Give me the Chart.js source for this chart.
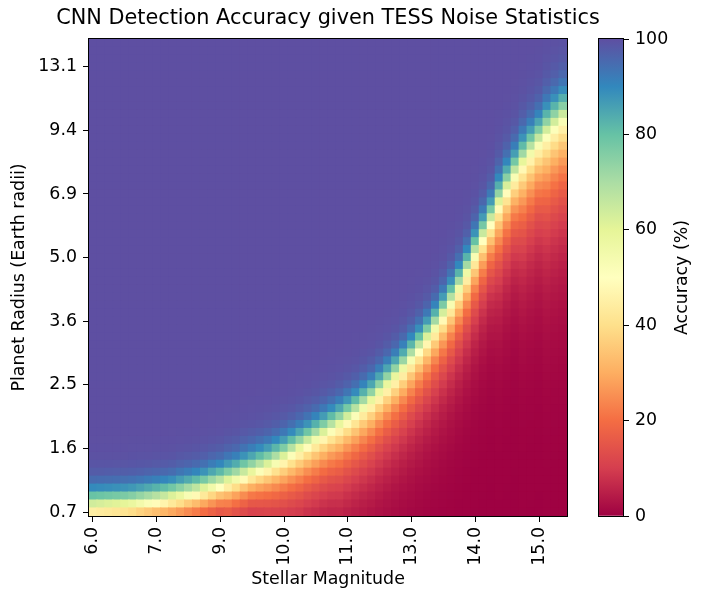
<!DOCTYPE html>
<html>
<head>
<meta charset="utf-8">
<script src="https://cdn.jsdelivr.net/npm/chart.js@4.4.1/dist/chart.umd.min.js"></script>
<style>
  body { margin: 0; background: #fff; }
  #wrap { position: relative; width: 705px; height: 590px; }
  #heat { position: absolute; left: 0; top: 0; }
  #cbar { position: absolute; left: 590px; top: 0; }
</style>
</head>
<body>
<div id="wrap">
  <canvas id="heat" width="656" height="590"></canvas>
  <canvas id="cbar" width="115" height="590"></canvas>
</div>
<script>
// tick labels, one every 8 cells
const xTickLabels = ['6.0', '7.0', '9.0', '10.0', '11.0', '13.0', '14.0', '15.0'];
const yTickLabels = ['0.7', '1.6', '2.5', '3.6', '5.0', '6.9', '9.4', '13.1'];
const cbarTicks = [0, 20, 40, 60, 80, 100];

// 60 magnitude columns x 60 radius rows
const nCols = 60;
const nRows = 60;

// row (counted from the bottom) where accuracy crosses 50 %, per magnitude column
const halfRow = [
  0.3, 0.35, 0.4, 0.45, 0.5, 0.6, 0.75, 0.9, 1.05, 1.2,
  1.4, 1.6, 1.85, 2.1, 2.4, 2.7, 3.0, 3.35, 3.7, 4.1,
  4.5, 4.9, 5.3, 5.8, 6.3, 6.9, 7.5, 8.1, 8.7, 9.3,
  9.9, 10.5, 11.2, 11.9, 12.7, 13.5, 14.5, 15.5, 16.5, 17.6,
  18.8, 20.0, 21.3, 22.7, 24.2, 25.8, 27.6, 29.6, 31.8, 34.0,
  36.0, 38.2, 40.1, 41.8, 43.3, 44.6, 45.8, 46.9, 47.9, 48.8
];
// rows needed to climb from 50 % towards 100 % above that row
const spreadUp = [
  1.25, 1.25, 1.25, 1.25, 1.25, 1.25, 1.25, 1.25, 1.25, 1.25,
  1.25, 1.3, 1.3, 1.3, 1.3, 1.35, 1.35, 1.4, 1.4, 1.45,
  1.45, 1.45, 1.45, 1.45, 1.45, 1.45, 1.45, 1.45, 1.45, 1.45,
  1.45, 1.45, 1.45, 1.45, 1.45, 1.45, 1.45, 1.45, 1.45, 1.45,
  1.45, 1.45, 1.45, 1.45, 1.5, 1.55, 1.55, 1.55, 1.6, 1.6,
  1.6, 1.75, 1.75, 1.75, 1.85, 1.85, 1.85, 2.0, 2.0, 2.0
];
// rows over which it decays from 50 % towards 0 % below it (long red tail)
const spreadDown = [
  2.6, 2.6, 2.6, 2.6, 2.6, 2.6, 2.6, 2.6, 2.6, 2.6,
  2.6, 2.6, 2.6, 2.6, 2.6, 2.6, 2.6, 3.0, 3.0, 3.0,
  3.0, 3.3, 3.6, 3.9, 4.1, 4.3, 4.5, 4.5, 4.6, 4.6,
  4.7, 5.0, 5.0, 5.0, 5.0, 5.0, 5.0, 5.0, 5.0, 5.0,
  5.0, 5.0, 5.0, 5.0, 5.0, 5.0, 5.0, 5.0, 5.0, 5.0,
  5.0, 5.8, 5.8, 5.8, 6.8, 6.8, 6.8, 7.8, 7.8, 7.8
];

// matplotlib "Spectral"
const spectralStops = [
  [158, 1, 66], [213, 62, 79], [244, 109, 67], [253, 174, 97], [254, 224, 139],
  [255, 255, 191], [230, 245, 152], [171, 221, 164], [102, 194, 165], [50, 136, 189], [94, 79, 162]
];

function spectral(v) {
  const t = Math.min(Math.max(v / 100, 0), 1) * 10;
  const i = Math.min(Math.floor(t), 9);
  const f = t - i;
  const a = spectralStops[i], b = spectralStops[i + 1];
  const c = [0, 1, 2].map(k => Math.round(a[k] + (b[k] - a[k]) * f));
  return 'rgb(' + c.join(',') + ')';
}

function accuracy(r, c) {
  const d = r - halfRow[c];
  if (d > 0) return 100 / (1 + Math.exp(-d / spreadUp[c]));
  return 50 * Math.exp(d / spreadDown[c]);
}

const font = { family: 'DejaVu Sans', size: 17.4 };
const cols = Array.from({ length: nCols }, (_, c) => c);

// one stacked dataset per radius row
const datasets = [];
for (let r = 0; r < nRows; r++) {
  datasets.push({
    data: cols.map(() => 1),
    backgroundColor: cols.map(c => spectral(accuracy(r, c))),
    borderWidth: 0,
    inflateAmount: 0.6,
    barPercentage: 1,
    categoryPercentage: 1
  });
}

const frame = {
  id: 'frame',
  afterDraw(chart) {
    const { ctx, chartArea: a } = chart;
    ctx.save();
    ctx.strokeStyle = '#000';
    ctx.lineWidth = 1;
    ctx.strokeRect(Math.round(a.left) - 0.5, Math.round(a.top) - 0.5,
      Math.round(a.right - a.left) + 1, Math.round(a.bottom - a.top) + 1);
    ctx.restore();
  }
};

const tickGrid = { drawOnChartArea: false, offset: false, tickLength: 6, tickColor: '#000', tickWidth: 1 };

new Chart(document.getElementById('heat'), {
  type: 'bar',
  data: { labels: cols, datasets: datasets },
  options: {
    responsive: false,
    animation: false,
    plugins: {
      legend: { display: false },
      tooltip: { enabled: false },
      title: {
        display: true,
        text: 'CNN Detection Accuracy given TESS Noise Statistics',
        color: '#000',
        font: { family: 'DejaVu Sans', size: 20.8, weight: 'normal' },
        padding: { top: 6.5, bottom: 7.5 }
      }
    },
    scales: {
      x: {
        stacked: true,
        grid: tickGrid,
        border: { display: false },
        ticks: {
          autoSkip: false, minRotation: 90, maxRotation: 90, padding: 5,
          color: '#000', font: font,
          callback: (v, i) => (i % 8 === 0 ? xTickLabels[i / 8] : null)
        },
        title: { display: true, text: 'Stellar Magnitude', color: '#000', font: font, padding: { top: 0, bottom: 0 } },
        afterFit: s => { s.height = 74; }
      },
      y: {
        stacked: true,
        min: 0,
        max: nRows,
        grid: tickGrid,
        border: { display: false },
        afterBuildTicks: axis => { axis.ticks = yTickLabels.map((_, k) => ({ value: k * 8 + 0.5 })); },
        ticks: { color: '#000', font: font, padding: 6, callback: (v, i) => yTickLabels[i] },
        title: { display: true, text: 'Planet Radius (Earth radii)', color: '#000', font: font, padding: { top: 9.5, bottom: 0 } },
        afterFit: s => { s.width = 89; }
      },
      spacer: {
        position: 'right',
        grid: { display: false },
        border: { display: false },
        ticks: { display: false },
        afterFit: s => { s.width = 89; }
      }
    }
  },
  plugins: [frame]
});

const cbarLabel = {
  id: 'cbarLabel',
  afterDraw(chart) {
    const { ctx, chartArea: a } = chart;
    ctx.save();
    ctx.translate(92, (a.top + a.bottom) / 2);
    ctx.rotate(-Math.PI / 2);
    ctx.font = '17.4px "DejaVu Sans"';
    ctx.fillStyle = '#000';
    ctx.textAlign = 'center';
    ctx.textBaseline = 'middle';
    ctx.fillText('Accuracy (%)', 0, 0);
    ctx.restore();
  }
};

new Chart(document.getElementById('cbar'), {
  type: 'bar',
  data: {
    labels: [''],
    datasets: [{
      data: [[0, 100]],
      borderWidth: 0,
      barPercentage: 1,
      categoryPercentage: 1,
      backgroundColor: ctx => {
        const a = ctx.chart.chartArea;
        if (!a) return null;
        const g = ctx.chart.ctx.createLinearGradient(0, a.bottom, 0, a.top);
        spectralStops.forEach((s, k) => g.addColorStop(k / 10, 'rgb(' + s.join(',') + ')'));
        return g;
      }
    }]
  },
  options: {
    responsive: false,
    animation: false,
    layout: { padding: { left: 9, top: 39, bottom: 74, right: 0 } },
    plugins: { legend: { display: false }, tooltip: { enabled: false } },
    scales: {
      x: { display: false },
      y: {
        position: 'right',
        min: 0,
        max: 100,
        grid: { drawOnChartArea: false, tickLength: 6, tickColor: '#000', tickWidth: 1 },
        border: { display: false },
        afterBuildTicks: axis => { axis.ticks = cbarTicks.map(v => ({ value: v })); },
        ticks: { color: '#000', font: font, padding: 6 },
        afterFit: s => { s.width = 82; }
      }
    }
  },
  plugins: [frame, cbarLabel]
});
</script>
</body>
</html>
